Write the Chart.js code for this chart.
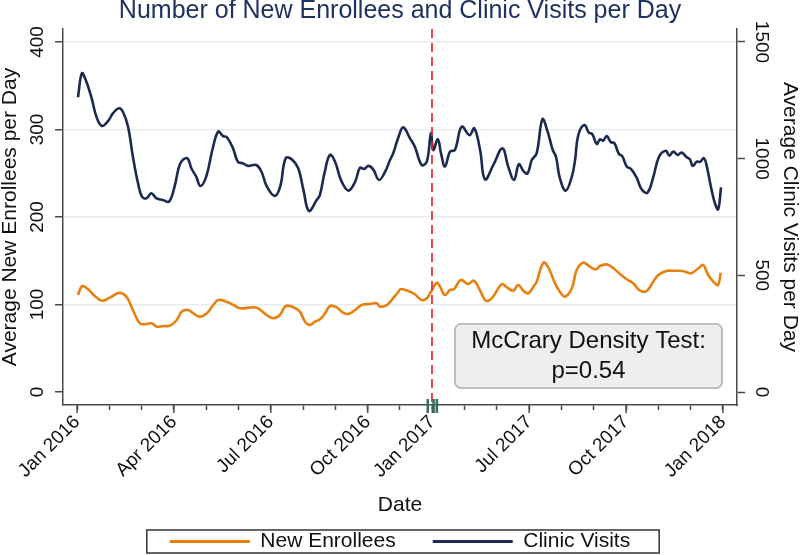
<!DOCTYPE html>
<html lang="en">
<head>
<meta charset="UTF-8" />
<title>Number of New Enrollees and Clinic Visits per Day</title>
<script src="https://cdn.jsdelivr.net/npm/chart.js@4"></script>
<style>
  body { margin: 0; background: #fff; }
  #wrap { width: 800px; height: 555px; }
</style>
</head>
<body>
<div id="wrap"><canvas id="chart" width="800" height="555"></canvas></div>
<script>
// x positions are in axis units: 0 = "Jan 2016" tick, 20 = "Jan 2018" tick
const xTickPos = [0, 3, 6, 9, 11, 14, 17, 20];
const xTickLabels = ["Jan 2016", "Apr 2016", "Jul 2016", "Oct 2016", "Jan 2017", "Jul 2017", "Oct 2017", "Jan 2018"];
const xMinorTicks = [0, 1, 2, 3, 4, 5, 6, 7, 8, 9, 10, 11, 12, 13, 14, 15, 16, 17, 18, 19, 20];
const yLeftTicks = [0, 100, 200, 300, 400];
const yRightTicks = [0, 500, 1000, 1500];

const cutoff = 10.99;
const rugMarks = [10.86, 11.04, 11.14];
const noteLines = ["McCrary Density Test:", "p=0.54"];

// Clinic visits (right axis)
const visitsX = [0.03,0.15,0.27,0.44,0.60,0.77,0.96,1.11,1.30,1.42,
  1.58,1.73,1.89,2.01,2.15,2.30,2.46,2.66,2.85,3.02,
  3.20,3.41,3.54,3.69,3.82,4.00,4.19,4.37,4.52,4.64,
  4.83,4.98,5.14,5.29,5.55,5.71,5.88,6.12,6.29,6.46,
  6.65,6.85,7.01,7.18,7.42,7.52,7.66,7.83,7.99,8.17,
  8.40,8.61,8.76,8.89,9.02,9.17,9.35,9.54,9.69,9.79,
  9.95,10.10,10.31,10.46,10.67,10.83,10.96,11.03,11.17,11.27,
  11.39,11.55,11.70,11.91,12.15,12.30,12.48,12.63,12.89,13.17,
  13.35,13.53,13.68,13.82,13.95,14.08,14.23,14.41,14.57,14.73,
  14.83,14.95,15.13,15.32,15.42,15.52,15.71,15.85,15.95,16.09,
  16.19,16.29,16.40,16.53,16.63,16.78,16.88,17.02,17.15,17.33,
  17.48,17.66,17.84,18.02,18.23,18.34,18.46,18.60,18.72,18.88,
  18.98,19.06,19.19,19.29,19.41,19.50,19.63,19.75,19.85,19.94];
const visitsY = [1263,1366,1337,1266,1180,1140,1161,1194,1216,1201,
  1137,1008,894,837,830,852,830,823,816,880,
  980,1002,959,923,883,923,1037,1116,1097,1092,
  1044,987,980,969,973,944,880,840,880,1002,
  997,959,866,776,823,844,937,1016,987,909,
  863,901,961,956,969,954,909,944,994,1023,
  1092,1134,1087,1051,973,987,1109,1037,1083,1023,
  966,1030,1037,1137,1101,1130,1037,911,973,1044,
  966,909,976,947,937,994,1023,1169,1116,1037,
  1008,916,863,923,994,1101,1144,1111,1106,1063,
  1083,1077,1097,1070,1068,1020,1011,966,956,918,
  869,854,920,1008,1034,1013,1030,1016,1026,1006,
  997,969,987,986,1002,966,877,809,783,877];

// New enrollees (left axis)
const enrolX = [0.03,0.16,0.34,0.55,0.78,1.01,1.32,1.53,1.73,1.95,
  2.16,2.31,2.47,2.67,2.88,3.09,3.24,3.45,3.60,3.81,
  4.02,4.22,4.37,4.63,4.84,5.05,5.46,5.61,5.87,6.08,
  6.28,6.47,6.70,6.90,7.06,7.21,7.37,7.52,7.68,7.83,
  8.04,8.24,8.40,8.61,8.81,9.07,9.28,9.38,9.59,9.74,
  9.95,10.03,10.31,10.46,10.67,10.83,10.98,11.14,11.24,11.39,
  11.55,11.67,11.88,12.11,12.29,12.48,12.66,12.84,13.15,13.32,
  13.51,13.66,13.82,13.97,14.13,14.23,14.44,14.59,14.80,14.95,
  15.11,15.32,15.47,15.67,15.88,16.07,16.19,16.38,16.55,16.81,
  17.02,17.22,17.43,17.64,17.84,18.00,18.24,18.41,18.57,18.75,
  18.93,19.03,19.24,19.39,19.54,19.75,19.85,19.93];
const enrolY = [110.9,121.1,117.4,109.7,104.3,107.8,113.5,108.9,93.7,78.5,
  77.7,78.5,74.6,75.4,75.8,82.3,91.8,93.7,89.9,86.1,
  89.9,99.4,105.1,103.2,99.4,95.7,96.8,95.7,88,84.2,
  88,98.3,96.8,91.8,80.3,76.6,80.3,83.1,89.9,98.3,
  96.8,90.6,89.1,93.7,99.4,100.6,101.4,97.5,99.4,105.1,
  114.6,117.7,114.6,111.7,105.1,107.1,115.8,124.9,120.3,110.9,
  116.6,117.4,128,123.4,127.2,115.8,104.3,107.1,123.1,119.2,
  115.8,122.3,115.8,112.8,120.3,126.1,147.8,142.5,124.2,114.6,
  108.9,118.5,139.4,147.8,143.2,140.2,144,145.9,143.2,134.9,
  128.8,124.2,115.8,115.4,126.1,133.7,138.3,138.6,138.6,138.3,
  136.3,135.7,141.4,145.1,133.7,124.2,122.3,136.3];

const ORANGE = "#e8800f";
const NAVY = "#1b2a4e";
const AXIS = "#4a4a4a";
const TEXT = "#111";

Chart.defaults.font.family = "'Liberation Sans', Arial, sans-serif";

const extras = {
  id: "extras",
  afterDatasetsDraw(chart) {
    const { ctx, chartArea: a, scales: { x } } = chart;
    ctx.save();
    // cutoff line
    const cx = x.getPixelForValue(cutoff);
    ctx.strokeStyle = "#e8262b";
    ctx.lineWidth = 1.7;
    ctx.setLineDash([9, 5]);
    ctx.beginPath();
    ctx.moveTo(cx, a.top);
    ctx.lineTo(cx, a.bottom);
    ctx.stroke();
    ctx.setLineDash([]);

    // note box
    const l = a.right - 282, r = a.right - 15, t = a.bottom - 81, b = a.bottom - 17;
    ctx.beginPath();
    ctx.roundRect(l, t, r - l, b - t, 6);
    ctx.fillStyle = "#eeeeee";
    ctx.fill();
    ctx.strokeStyle = "#bdbdbd";
    ctx.lineWidth = 2;
    ctx.stroke();
    ctx.fillStyle = TEXT;
    ctx.font = "24px 'Liberation Sans', Arial, sans-serif";
    ctx.textAlign = "center";
    ctx.textBaseline = "middle";
    noteLines.forEach((s, i) => ctx.fillText(s, (l + r) / 2, t + 17 + i * 30));
    ctx.restore();
  },
  afterDraw(chart) {
    const { ctx, chartArea: a, scales: { x } } = chart;
    ctx.save();
    // longer major ticks
    ctx.strokeStyle = AXIS;
    ctx.lineWidth = 1.5;
    xTickPos.forEach(v => {
      const px = x.getPixelForValue(v);
      ctx.beginPath();
      ctx.moveTo(px, a.bottom);
      ctx.lineTo(px, a.bottom + 8);
      ctx.stroke();
    });
    // rug marks
    ctx.strokeStyle = "#2f6e62";
    ctx.lineWidth = 2.5;
    rugMarks.forEach(v => {
      const px = x.getPixelForValue(v);
      ctx.beginPath();
      ctx.moveTo(px, a.bottom - 6);
      ctx.lineTo(px, a.bottom + 8);
      ctx.stroke();
    });
    // legend frame
    const hb = chart.legend.legendHitBoxes;
    if (hb && hb.length) {
      const last = hb[hb.length - 1];
      const left = hb[0].left - 23, right = last.left + last.width + 29;
      const mid = hb[0].top + hb[0].height / 2;
      ctx.strokeStyle = "#333";
      ctx.lineWidth = 1.5;
      ctx.strokeRect(left, mid - 11.5, right - left, 23);
    }
    ctx.restore();
  }
};

new Chart(document.getElementById("chart"), {
  type: "line",
  data: {
    datasets: [
      {
        label: "New Enrollees",
        data: enrolX.map((v, i) => ({ x: v, y: enrolY[i] })),
        yAxisID: "y",
        borderColor: ORANGE,
        backgroundColor: ORANGE,
        borderWidth: 2.6,
        pointRadius: 0,
        tension: 0.4
      },
      {
        label: "Clinic Visits",
        data: visitsX.map((v, i) => ({ x: v, y: visitsY[i] })),
        yAxisID: "y2",
        borderColor: NAVY,
        backgroundColor: NAVY,
        borderWidth: 2.6,
        pointRadius: 0,
        tension: 0.4
      }
    ]
  },
  options: {
    responsive: false,
    animation: false,
    devicePixelRatio: 1,
    layout: { padding: { top: 0, left: 0, right: 0, bottom: -7 } },
    plugins: {
      title: {
        display: true,
        text: "Number of New Enrollees and Clinic Visits per Day",
        color: "#1e3160",
        font: { size: 25, weight: "normal", lineHeight: 0.88 },
        padding: { top: 0, bottom: 7 }
      },
      legend: {
        position: "bottom",
        labels: {
          boxWidth: 80,
          boxHeight: 3,
          padding: 37,
          color: TEXT,
          font: { size: 21 },
          generateLabels: chart =>
            Chart.defaults.plugins.legend.labels.generateLabels(chart).map(it => ({ ...it, lineWidth: 0 }))
        }
      },
      tooltip: { enabled: false }
    },
    scales: {
      x: {
        type: "linear",
        position: "bottom",
        min: -0.434,
        max: 20.434,
        afterBuildTicks: s => { s.ticks = xMinorTicks.map(v => ({ value: v })); },
        afterFit: s => { s.height = 89; },
        ticks: {
          autoSkip: false,
          minRotation: 45,
          maxRotation: 45,
          padding: 1,
          color: TEXT,
          font: { size: 19 },
          callback: v => {
            const i = xTickPos.indexOf(v);
            return i >= 0 ? xTickLabels[i] : "";
          }
        },
        grid: { drawOnChartArea: false, tickLength: 5, tickColor: AXIS, tickWidth: 1.5 },
        border: { color: AXIS, width: 1.5 },
        title: {
          display: true,
          text: "Date",
          color: TEXT,
          font: { size: 21, lineHeight: 1 },
          padding: { top: 0, bottom: -21.5 }
        }
      },
      y: {
        position: "left",
        min: -14.86,
        max: 414.86,
        afterBuildTicks: s => { s.ticks = yLeftTicks.map(v => ({ value: v })); },
        afterFit: s => { s.width = 63; },
        ticks: {
          minRotation: 90,
          maxRotation: 90,
          crossAlign: "center",
          padding: 1,
          color: TEXT,
          font: { size: 19 },
          callback: v => String(v)
        },
        grid: {
          color: c => (c.tick && c.tick.value === 0 ? "rgba(0,0,0,0)" : "#e6eef0"),
          lineWidth: 1.5,
          tickLength: 8,
          tickColor: AXIS,
          tickWidth: 1.5
        },
        border: { color: AXIS, width: 1.5 },
        title: {
          display: true,
          text: "Average New Enrollees per Day",
          color: TEXT,
          font: { size: 21, lineHeight: 1 },
          padding: 0
        }
      },
      y2: {
        position: "right",
        min: -55.7,
        max: 1555.7,
        afterBuildTicks: s => { s.ticks = yRightTicks.map(v => ({ value: v })); },
        afterFit: s => { s.width = 63; },
        ticks: {
          minRotation: -90,
          maxRotation: -90,
          crossAlign: "center",
          padding: -4.6,
          color: TEXT,
          font: { size: 19 },
          callback: v => String(v)
        },
        grid: { drawOnChartArea: false, tickLength: 8, tickColor: AXIS, tickWidth: 1.5 },
        border: { color: AXIS, width: 1.5 },
        title: {
          display: true,
          text: "Average Clinic Visits per Day",
          color: TEXT,
          font: { size: 21, lineHeight: 1 },
          padding: 0
        }
      }
    }
  },
  plugins: [extras]
});
</script>
</body>
</html>
